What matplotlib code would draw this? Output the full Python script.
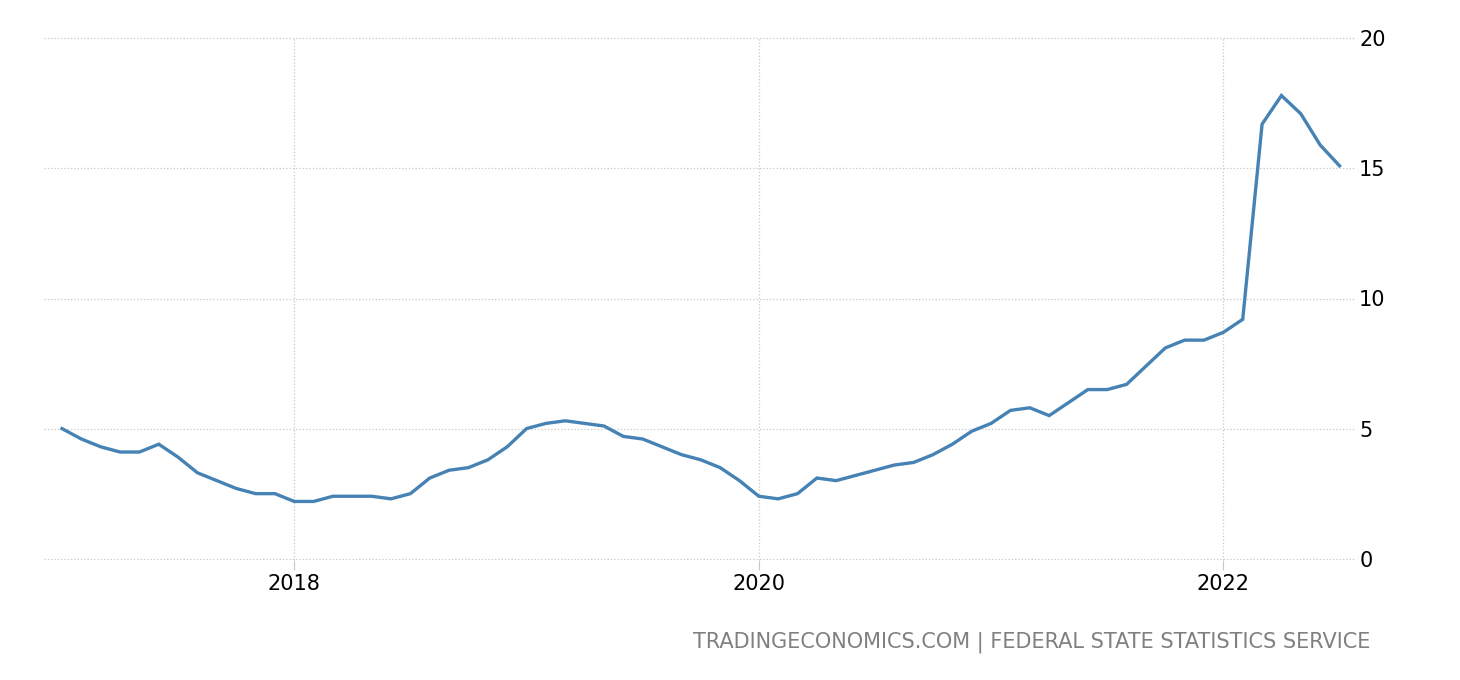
import matplotlib.pyplot as plt
from matplotlib import font_manager

# Russia inflation rate, monthly Jan 2017 - Jul 2022 (%)
inflation_2017 = [5.0, 4.6, 4.3, 4.1, 4.1, 4.4, 3.9, 3.3, 3.0, 2.7, 2.5, 2.5]
inflation_2018 = [2.2, 2.2, 2.4, 2.4, 2.4, 2.3, 2.5, 3.1, 3.4, 3.5, 3.8, 4.3]
inflation_2019 = [5.0, 5.2, 5.3, 5.2, 5.1, 4.7, 4.6, 4.3, 4.0, 3.8, 3.5, 3.0]
inflation_2020 = [2.4, 2.3, 2.5, 3.1, 3.0, 3.2, 3.4, 3.6, 3.7, 4.0, 4.4, 4.9]
inflation_2021 = [5.2, 5.7, 5.8, 5.5, 6.0, 6.5, 6.5, 6.7, 7.4, 8.1, 8.4, 8.4]
inflation_2022 = [8.7, 9.2, 16.7, 17.8, 17.1, 15.9, 15.1]

values = (inflation_2017 + inflation_2018 + inflation_2019 +
          inflation_2020 + inflation_2021 + inflation_2022)
months = list(range(len(values)))  # 0 = Jan 2017

xtick_pos = [12, 36, 60]
xtick_labels = ['2018', '2020', '2022']
ytick_pos = [0, 5, 10, 15, 20]

installed = {f.name for f in font_manager.fontManager.ttflist}
narrow = 'Liberation Sans Narrow' if 'Liberation Sans Narrow' in installed else 'DejaVu Sans'

fig = plt.figure(figsize=(14.6, 6.8), dpi=100)
ax = fig.add_axes([44 / 1460, 1 - 560 / 680, (1355 - 44) / 1460, (560 - 37) / 680])

ax.plot(months, values, color='#4682b4', linewidth=2.4, solid_joinstyle='miter')

ax.set_xlim(-0.93, 66.8)
ax.set_ylim(-0.05, 20.05)
ax.set_xticks(xtick_pos)
ax.set_xticklabels(xtick_labels)
ax.set_yticks(ytick_pos)
ax.yaxis.tick_right()

ax.grid(True, color='#c8c8c8', linestyle=':', linewidth=0.9)
for s in ax.spines.values():
    s.set_visible(False)
ax.tick_params(axis='y', length=0, pad=3, labelsize=15)
ax.tick_params(axis='x', length=7, color='#c8c8c8', pad=3, labelsize=15)

fig.text(1370 / 1460, 1 - 642 / 680, 'TRADINGECONOMICS.COM | FEDERAL STATE STATISTICS SERVICE',
         ha='right', va='center', fontsize=15, color='#808080', family=narrow)

fig.savefig('out.png', dpi=100)
